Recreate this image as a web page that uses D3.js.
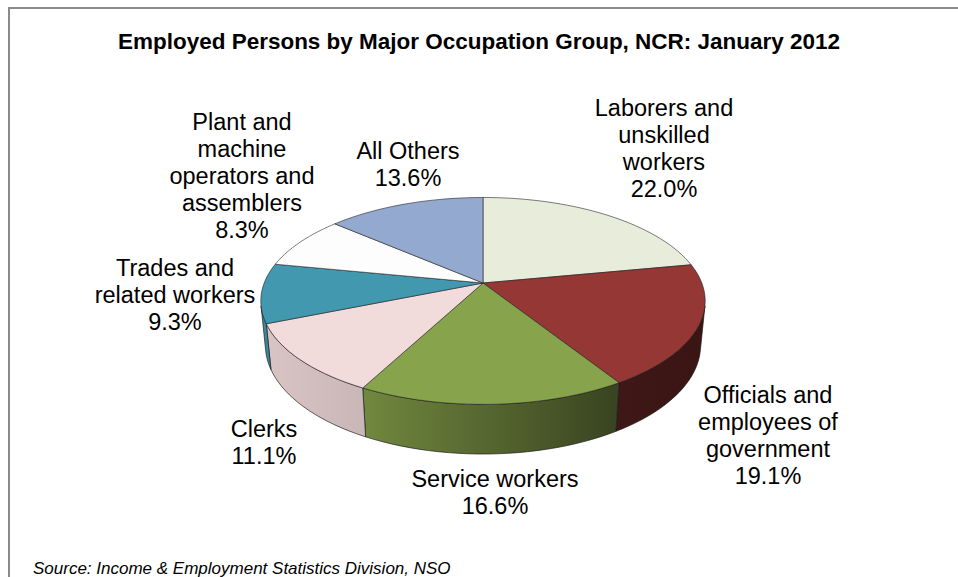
<!DOCTYPE html>
<html><head><meta charset="utf-8">
<script src="https://cdn.jsdelivr.net/npm/d3@7"></script>
<style>html,body{margin:0;padding:0;background:#fff;overflow:hidden;} svg{display:block;font-family:"Liberation Sans",Arial,sans-serif;}</style>
</head><body><svg id="c" width="958" height="577"></svg>
<script>
const categories = ["Laborers and unskilled workers","Officials and employees of government","Service workers","Clerks","Trades and related workers","Plant and machine operators and assemblers","All Others"];
const values = [22.0, 19.1, 16.6, 11.1, 9.3, 8.3, 13.6];
const colors = ["#E7ECDB","#953735","#87A34B","#F2DBDB","#4198AF","#FDFDFD","#93A9CF"];
const labelLines = [["Laborers and","unskilled","workers"],["Officials and","employees of","government"],["Service workers"],["Clerks"],["Trades and","related workers"],["Plant and","machine","operators and","assemblers"],["All Others"]];
const titleText = "Employed Persons by Major Occupation Group, NCR: January 2012";
const sourceText = "Source: Income & Employment Statistics Division, NSO";

// layout (not data): label centre x and first baseline
const labelAnchor = [[664,116],[768,403],[495,487],[264,437],[175,276],[242,130],[408,159]];
const lineH = 27;

const svg = d3.select("#c");
svg.append("rect").attr("x",9).attr("y",8).attr("width",1000).attr("height",700)
  .attr("fill","#fff").attr("stroke","#8a8a8a").attr("stroke-width",2);

// perspective projection of the pie disk
const cx = 483, cy = 283, F = 1122, D = 5.127, elev = Math.asin(0.4586);
const s = Math.sin(elev), c = Math.cos(elev), H = 0.229;
function proj(phi, w){
  const u = Math.sin(phi), v = Math.cos(phi);
  const depth = D + v*c - w*s;
  return [cx + F*u/depth, cy - F*(v*s + w*c)/depth];
}
const visLo = Math.acos(-1/(D*c)), visHi = 2*Math.PI - visLo;

const pie = d3.pie().sort(null).value(d => d)(values);
const N = 160;
function arcPts(a0, a1, w){
  const n = Math.max(2, Math.ceil(N*(a1-a0)/(2*Math.PI))+1);
  return d3.range(n).map(i => proj(a0 + (a1-a0)*i/(n-1), w));
}
const line = d3.line();

const defs = svg.append("defs");
const gStops = [[0,0.9],[0.24,0.83],[0.8,0.42],[1,0.38]];
colors.forEach((col,i) => {
  const g = defs.append("linearGradient").attr("id","g"+i).attr("gradientUnits","userSpaceOnUse")
    .attr("x1",260).attr("x2",705).attr("y1",0).attr("y2",0);
  const b = d3.rgb(col);
  gStops.forEach(([o,f]) => g.append("stop").attr("offset",o)
    .attr("stop-color", d3.rgb(b.r*f,b.g*f,b.b*f).formatHex()));
});

// side walls
const walls = svg.append("g");
pie.forEach((d,i) => {
  const a0 = Math.max(d.startAngle, visLo), a1 = Math.min(d.endAngle, visHi);
  if (a1 <= a0) return;
  const pts = arcPts(a0,a1,0).concat(arcPts(a0,a1,-H).reverse());
  walls.append("path").attr("d", line(pts)+"Z").attr("fill","url(#g"+i+")")
    .attr("stroke","#1a1a1a").attr("stroke-opacity",0.75).attr("stroke-width",0.9).attr("stroke-linejoin","round");
});
// top faces
const tops = svg.append("g");
pie.forEach((d,i) => {
  tops.append("path").attr("d", line([[cx,cy]].concat(arcPts(d.startAngle,d.endAngle,0)))+"Z")
    .attr("fill",colors[i]).attr("stroke","#1a1a1a").attr("stroke-opacity",0.7).attr("stroke-width",0.8).attr("stroke-linejoin","round");
});

// labels
const fmt = d3.format(".1f");
pie.forEach((d,i) => {
  const t = svg.append("text").attr("text-anchor","middle").attr("font-size",23.5).attr("fill","#000");
  const lines = labelLines[i].concat([fmt(values[i])+"%"]);
  lines.forEach((l,k) => t.append("tspan").attr("x",labelAnchor[i][0]).attr("y",labelAnchor[i][1]+k*lineH).text(l));
});

svg.append("text").attr("x",479).attr("y",48.5).attr("text-anchor","middle")
  .attr("font-size",22).attr("font-weight","bold").attr("fill","#000")
  .attr("textLength",722).attr("lengthAdjust","spacingAndGlyphs").text(titleText);
svg.append("text").attr("x",33).attr("y",574).attr("font-size",17).attr("font-style","italic")
  .attr("fill","#000").text(sourceText);
</script></body></html>
